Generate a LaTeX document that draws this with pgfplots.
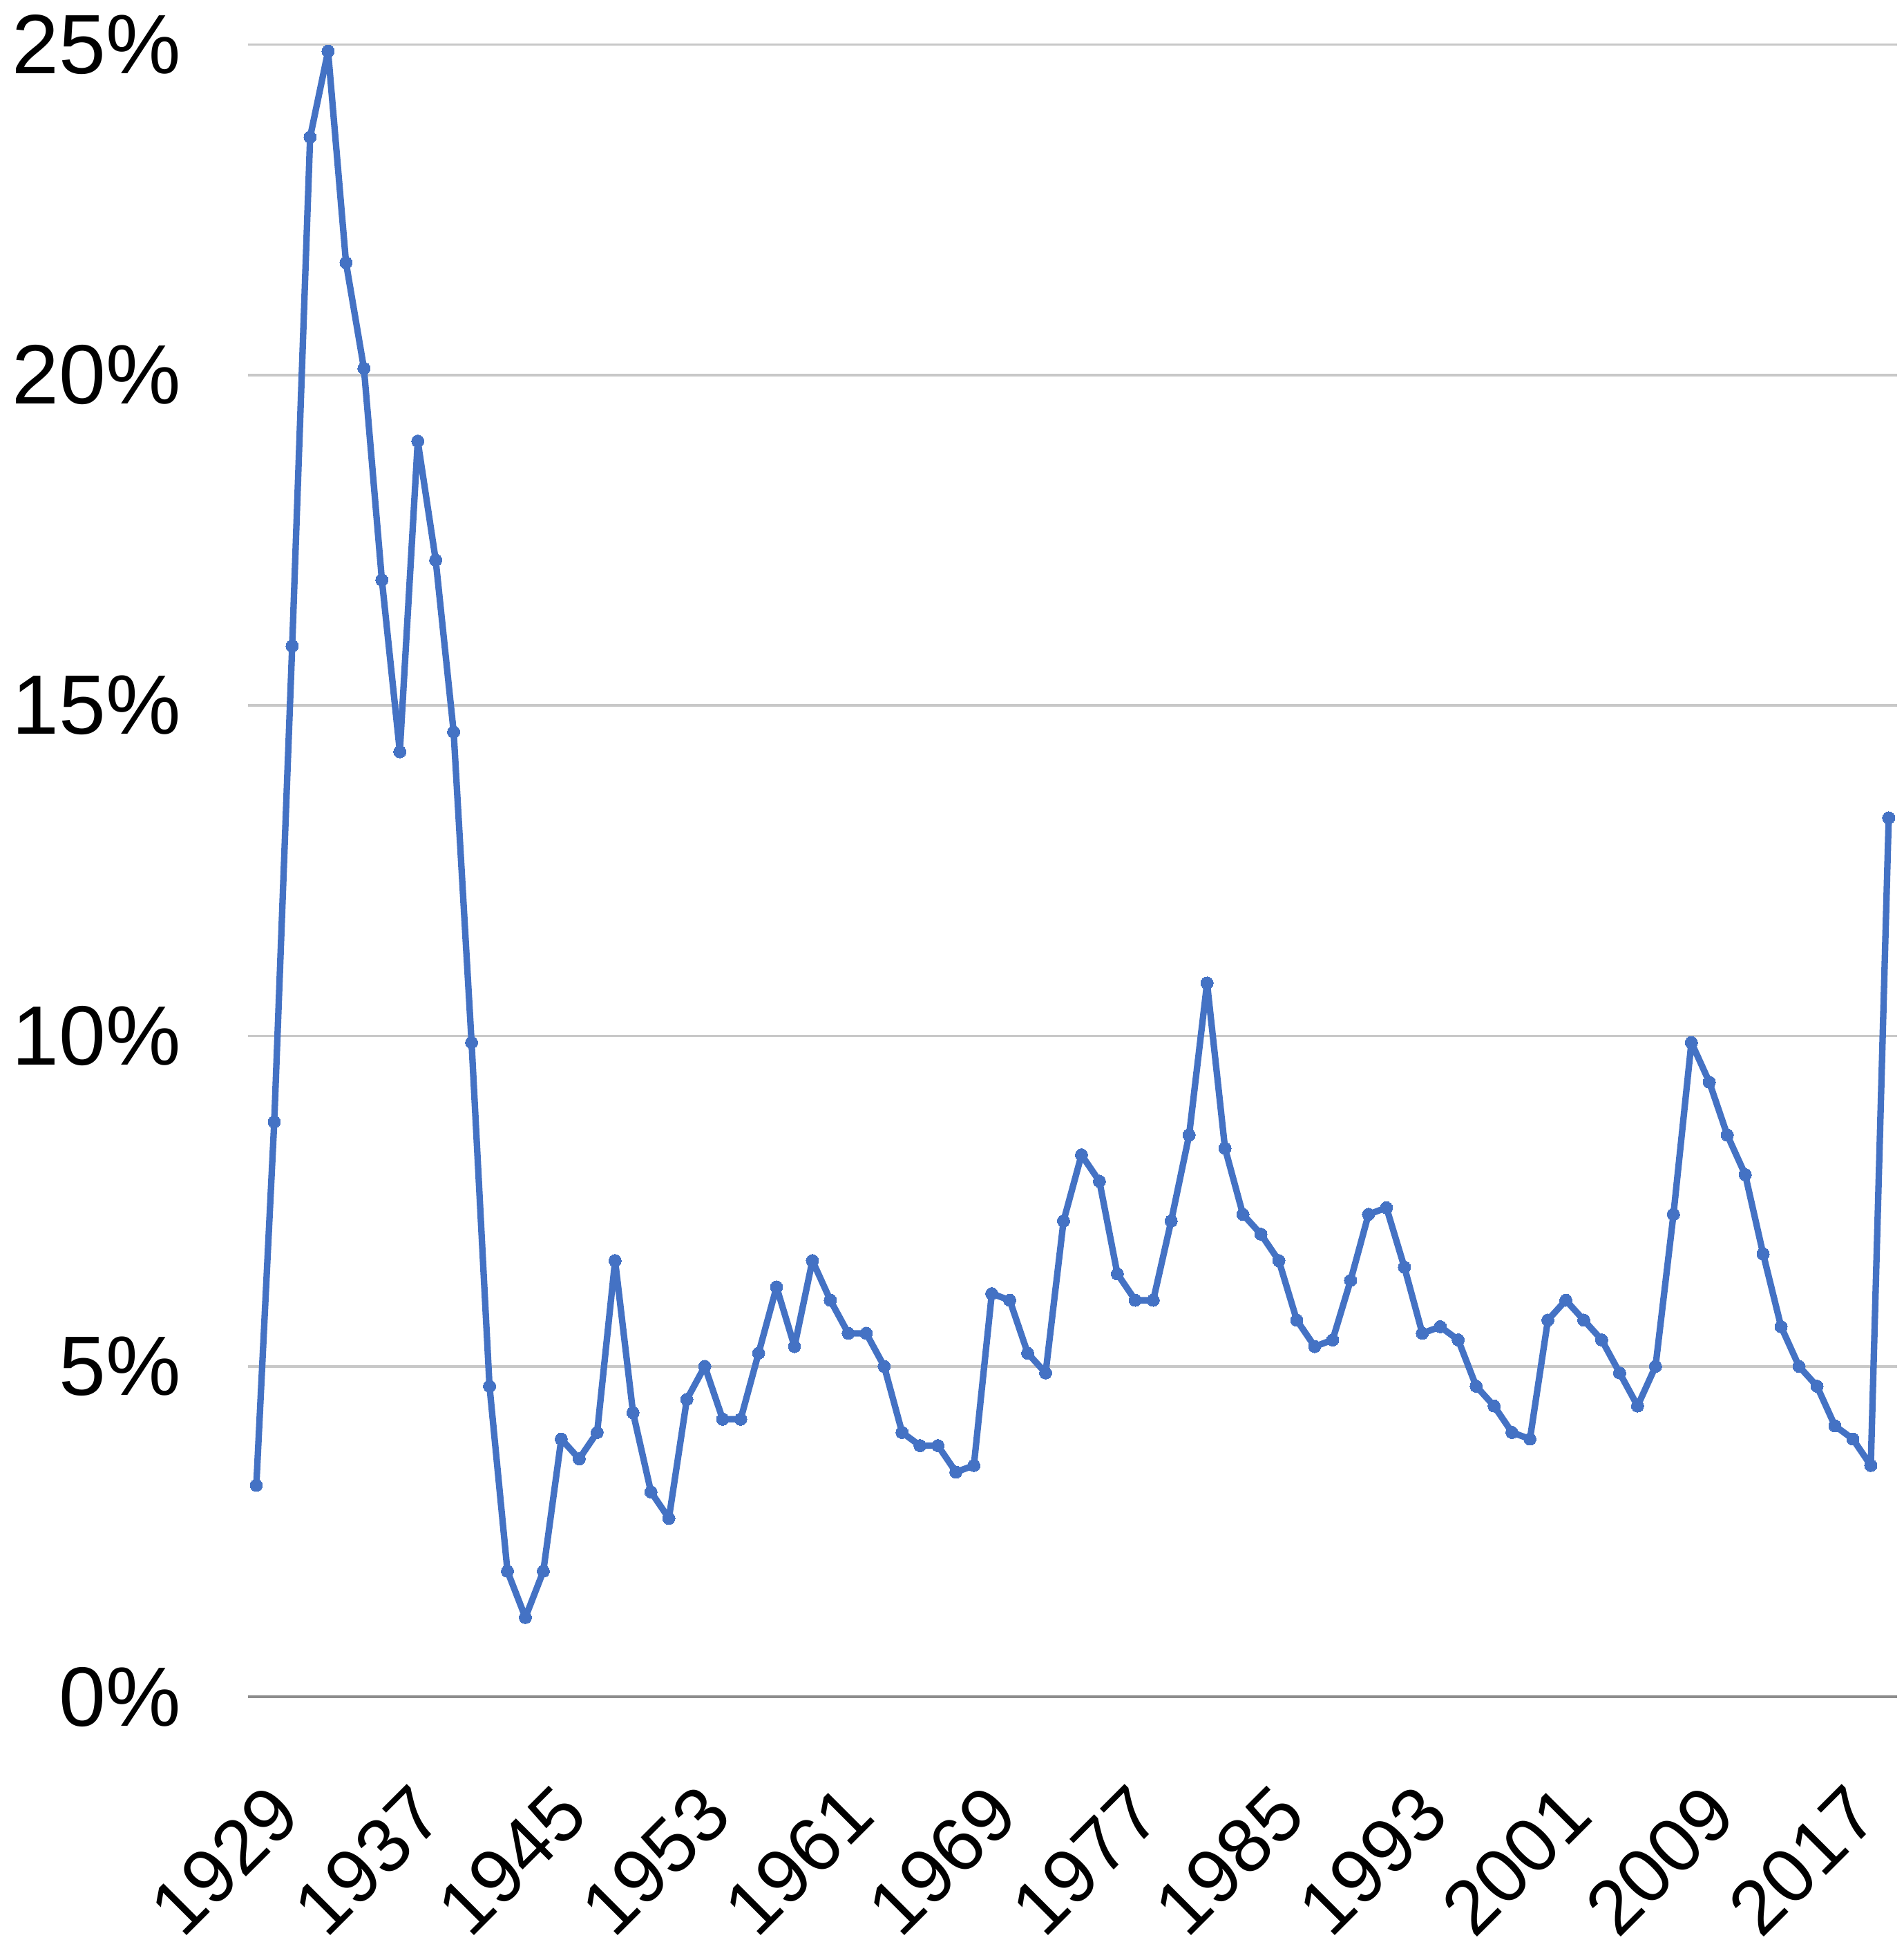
\documentclass[border=0pt]{standalone}
\usepackage{fontspec}
\setmainfont{Liberation Sans}
\usepackage{pgfplots}
\pgfplotsset{compat=1.18}
\definecolor{linecol}{HTML}{4472C4}
\definecolor{gridcol}{HTML}{C8C8C8}
\definecolor{zerocol}{HTML}{8C8C8C}
\begin{document}
\begin{tikzpicture}
\begin{axis}[
  scale only axis,
  width=333pt, height=333.5pt,
  xmin=1928.52, xmax=2020.48,
  ymin=0, ymax=25,
  axis line style={draw=none},
  major tick style={draw=none},
  ytick={5,10,15,20,25},
  yticklabels={5\%,10\%,15\%,20\%,25\%},
  extra y ticks={0},
  extra y tick labels={0\%},
  extra y tick style={grid style={zerocol, line width=0.6pt}},
  ymajorgrids,
  grid style={gridcol, line width=0.5pt},
  xtick=\empty,
  yticklabel style={font=\fontsize{17}{20}\selectfont, xshift=-10pt},
  clip=false,
]
\addplot[color=linecol, line width=1.3pt, line join=round, mark=*, mark size=1.25pt, mark options={fill=linecol, draw=linecol, line width=0pt}] coordinates {
(1929,3.2)(1930,8.7)(1931,15.9)(1932,23.6)(1933,24.9)(1934,21.7)(1935,20.1)(1936,16.9)(1937,14.3)(1938,19.0)
(1939,17.2)(1940,14.6)(1941,9.9)(1942,4.7)(1943,1.9)(1944,1.2)(1945,1.9)(1946,3.9)(1947,3.6)(1948,4.0)
(1949,6.6)(1950,4.3)(1951,3.1)(1952,2.7)(1953,4.5)(1954,5.0)(1955,4.2)(1956,4.2)(1957,5.2)(1958,6.2)
(1959,5.3)(1960,6.6)(1961,6.0)(1962,5.5)(1963,5.5)(1964,5.0)(1965,4.0)(1966,3.8)(1967,3.8)(1968,3.4)
(1969,3.5)(1970,6.1)(1971,6.0)(1972,5.2)(1973,4.9)(1974,7.2)(1975,8.2)(1976,7.8)(1977,6.4)(1978,6.0)
(1979,6.0)(1980,7.2)(1981,8.5)(1982,10.8)(1983,8.3)(1984,7.3)(1985,7.0)(1986,6.6)(1987,5.7)(1988,5.3)
(1989,5.4)(1990,6.3)(1991,7.3)(1992,7.4)(1993,6.5)(1994,5.5)(1995,5.6)(1996,5.4)(1997,4.7)(1998,4.4)
(1999,4.0)(2000,3.9)(2001,5.7)(2002,6.0)(2003,5.7)(2004,5.4)(2005,4.9)(2006,4.4)(2007,5.0)(2008,7.3)
(2009,9.9)(2010,9.3)(2011,8.5)(2012,7.9)(2013,6.7)(2014,5.6)(2015,5.0)(2016,4.7)(2017,4.1)(2018,3.9)
(2019,3.5)(2020,13.3)
};
\pgfplotsinvokeforeach{1929,1937,1945,1953,1961,1969,1977,1985,1993,2001,2009,2017}{
  \node[rotate=45, anchor=east, inner sep=0pt, text height=11.1pt, text depth=0pt,
        font=\fontsize{15.5}{18}\selectfont]
    at ([shift={(5.8pt,-20.6pt)}]axis cs:#1,0) {#1};
}
\end{axis}
\pgfresetboundingbox
\useasboundingbox ([shift={(-50pt,-49.5pt)}]current axis.south west) rectangle ([shift={(1.25pt,9pt)}]current axis.north east);
\end{tikzpicture}
\end{document}
